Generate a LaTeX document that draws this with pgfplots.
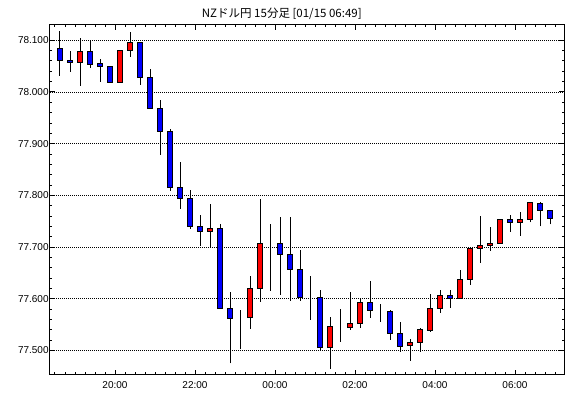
\documentclass[border=0pt]{standalone}
\usepackage{fontspec}
\setmainfont{Liberation Sans}
\newfontfamily\jp{Noto Sans CJK JP}
\usepackage{pgfplots}
\usepackage{pgfplotstable}
\pgfplotsset{compat=1.18}

\pgfplotstableread{
i o h l c
1 78.0845 78.1180 78.0315 78.0605
2 78.0613 78.0793 78.0393 78.0567
3 78.0574 78.1044 78.0122 78.0787
4 78.0787 78.1000 78.0470 78.0536
5 78.0542 78.0638 78.0199 78.0497
6 78.0497 78.0497 78.0188 78.0188
7 78.0188 78.0807 78.0188 78.0807
8 78.0799 78.1161 78.0683 78.0961
9 78.0961 78.0961 78.0141 78.0277
10 78.0284 78.0445 77.9685 77.9685
11 77.9685 77.9845 77.8787 77.9232
12 77.9240 77.9279 77.8091 77.8153
13 77.8157 77.8646 77.7743 77.7936
14 77.7940 77.8104 77.7356 77.7395
15 77.7398 77.7621 77.7015 77.7298
16 77.7306 77.7828 77.6988 77.7364
17 77.7364 77.7441 77.5816 77.5816
18 77.5816 77.6132 77.4752 77.5623
19 77.5629 77.5783 77.5023 77.5629
20 77.5642 77.6441 77.5422 77.6203
21 77.6203 77.7930 77.5944 77.7074
22 77.7074 77.7447 77.6157 77.7074
23 77.7074 77.7582 77.6079 77.6861
24 77.6861 77.7582 77.5963 77.6563
25 77.6563 77.6944 77.5963 77.6021
26 77.6021 77.6441 77.5596 77.6021
27 77.6029 77.6170 77.4996 77.5062
28 77.5062 77.5648 77.4648 77.5455
29 77.5455 77.5803 77.5170 77.5455
30 77.5449 77.6131 77.5403 77.5526
31 77.5526 77.6010 77.5441 77.5925
32 77.5932 77.6344 77.5634 77.5778
33 77.5764 77.5894 77.5557 77.5764
34 77.5758 77.5783 77.5209 77.5325
35 77.5333 77.5551 77.4971 77.5081
36 77.5100 77.5216 77.4803 77.5158
37 77.5158 77.5435 77.4971 77.5410
38 77.5383 77.6093 77.5364 77.5816
39 77.5816 77.6170 77.5731 77.6068
40 77.6068 77.6170 77.5828 77.6010
41 77.6010 77.6557 77.6010 77.6377
42 77.6377 77.6977 77.6273 77.6977
43 77.6977 77.7602 77.6698 77.7035
44 77.7035 77.7389 77.6930 77.7074
45 77.7074 77.7538 77.7074 77.7538
46 77.7538 77.7621 77.7298 77.7480
47 77.7480 77.7679 77.7221 77.7538
48 77.7538 77.7867 77.7480 77.7867
49 77.7847 77.7867 77.7402 77.7712
50 77.7712 77.7712 77.7441 77.7557
}\candles

\begin{document}
\begin{tikzpicture}
\useasboundingbox (0,0) rectangle (570pt,398pt);
\begin{axis}[
  at={(50pt,23pt)}, anchor=south west,
  scale only axis, width=514pt, height=350pt,
  xmin=0, xmax=51.4, ymin=77.4526, ymax=78.1296,
  axis line style={black, line width=1pt},
  tick align=inside,
  major tick length=5pt, minor tick length=2.5pt,
  tick style={black, line width=1pt},
  xtick={6.5,14.5,22.5,30.5,38.5,46.5},
  xticklabels={20:00,22:00,00:00,02:00,04:00,06:00},
  minor xtick={0.5,1.5,...,50.5},
  ytick={77.5,77.6,77.7,77.8,77.9,78.0,78.1},
  minor y tick num=4,
  ymajorgrids,
  major grid style={black, line width=0.8pt, dash pattern=on 1pt off 1pt},
  /pgf/number format/assume math mode=true,
  tick label style={font=\fontsize{10}{12}\selectfont},
  yticklabel style={inner xsep=1.2pt, /pgf/number format/fixed, /pgf/number format/fixed zerofill, /pgf/number format/precision=3, /pgf/number format/1000 sep={}},
  xticklabel style={yshift=-3pt},
  title={\jp NZドル円 15分足 [01/15 06:49]},
  title style={at={(0.451,1.016)}, anchor=center, font=\fontsize{11.5}{13}\selectfont},
]
\addplot[draw=none, mark=none,
  error bars/.cd, y dir=plus, y explicit, error mark=none,
  error bar style={draw=black, solid, line width=1pt}]
  table[x=i, y=l, y error expr=\thisrow{h}-\thisrow{l}] {\candles};
\end{axis}
\begin{axis}[
  at={(50pt,23pt)}, anchor=south west,
  scale only axis, width=514pt, height=350pt,
  xmin=0, xmax=51.4, ymin=77.4526, ymax=78.1296,
  hide axis, ybar stacked, bar width=0.53,
]
\addplot[draw=none, fill=none] table[x=i, y expr={min(\thisrow{o},\thisrow{c})}] {\candles};
\addplot[fill=red, draw=black, line width=1pt] table[x=i, y expr={max(\thisrow{c}-\thisrow{o},0)}] {\candles};
\addplot[fill=blue, draw=black, line width=1pt] table[x=i, y expr={max(\thisrow{o}-\thisrow{c},0)}] {\candles};
\end{axis}
\end{tikzpicture}
\end{document}
